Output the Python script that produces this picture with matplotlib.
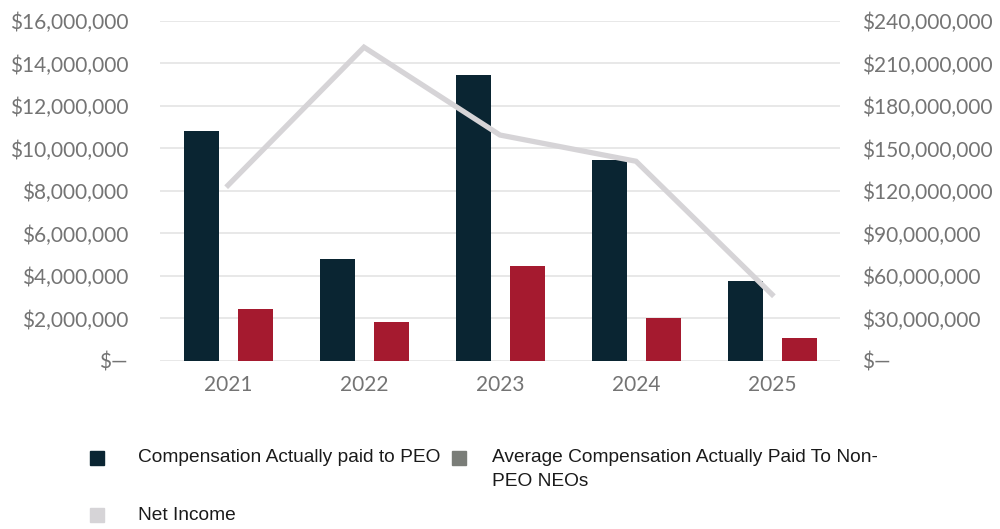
import numpy as np
import matplotlib.pyplot as plt
from matplotlib.patches import Rectangle
from matplotlib.ticker import FuncFormatter

years = ["2021", "2022", "2023", "2024", "2025"]
peo_cap = [10.82e6, 4.80e6, 13.46e6, 9.46e6, 3.78e6]
neo_cap = [2.43e6, 1.84e6, 4.47e6, 2.01e6, 1.07e6]
net_income = [124e6, 221.5e6, 159.5e6, 141e6, 47e6]

NAVY = "#0a2532"
RED = "#a51a2f"
LINE_GRAY = "#d6d4d7"
LEG_GRAY = "#7a7d78"
TICK_GRAY = "#747474"


def money(v, pos):
    if abs(v) < 1:
        return "$\u2014"
    return "${:,.0f}".format(v)


fig = plt.figure(figsize=(10, 5.29), dpi=100)
ax = fig.add_axes([0.16, 0.3176, 0.68, 0.6427])
x = np.arange(len(years))

ax.bar(x - 0.197, peo_cap, width=0.257, color=NAVY, zorder=2)
ax.bar(x + 0.199, neo_cap, width=0.257, color=RED, zorder=2)
ax.set_xlim(-0.5, 4.5)
ax.set_ylim(0, 16e6)
ax.set_yticks(np.arange(0, 16e6 + 1, 2e6))
ax.yaxis.set_major_formatter(FuncFormatter(money))
ax.set_xticks(x)
ax.set_xticklabels(years)
ax.grid(axis="y", color="#e6e6e6", linewidth=1.3, zorder=0)
ax.set_axisbelow(True)

ax2 = ax.twinx()
ax2.plot(x, net_income, color=LINE_GRAY, linewidth=3.8, solid_joinstyle="miter")
ax2.set_ylim(0, 240e6)
ax2.set_yticks(np.arange(0, 240e6 + 1, 30e6))
ax2.yaxis.set_major_formatter(FuncFormatter(money))

for a in (ax, ax2):
    for s in a.spines.values():
        s.set_visible(False)
    a.tick_params(length=0, labelsize=15, labelcolor=TICK_GRAY)
    for lab in a.get_xticklabels() + a.get_yticklabels():
        lab.set_family("Lato")
ax.tick_params(axis="y", pad=23)
ax2.tick_params(axis="y", pad=16)
ax.tick_params(axis="x", pad=10)

# legend drawn by hand
W, H = 1000.0, 529.0
leg_boxes = [(90, 451, NAVY), (452, 451, LEG_GRAY), (90, 508, LINE_GRAY)]
leg_texts = [
    (138, 457, "Compensation Actually paid to PEO"),
    (492, 457, "Average Compensation Actually Paid To Non-"),
    (492, 482, "PEO NEOs"),
    (138, 516, "Net Income"),
]
for mx, my, col in leg_boxes:
    fig.add_artist(Rectangle((mx / W, 1 - (my + 14) / H), 14 / W, 14 / H,
                             transform=fig.transFigure, color=col))
for tx, ty, txt in leg_texts:
    fig.text(tx / W, 1 - ty / H, txt, family="Liberation Sans", fontsize=13.8,
             color="#1a1a1a", va="center")

fig.savefig("out.png", dpi=100)
